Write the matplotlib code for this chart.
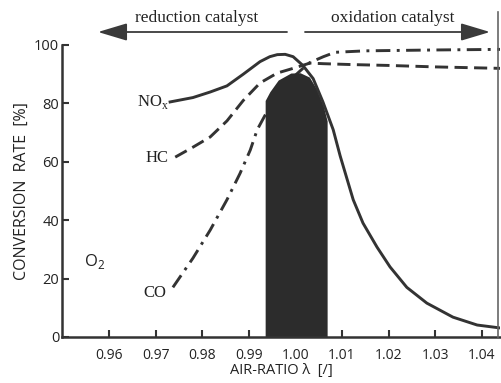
import numpy as np
import matplotlib
matplotlib.use("Agg")
import matplotlib.pyplot as plt
from matplotlib.lines import Line2D
from matplotlib.patches import FancyArrowPatch

# ---- data ----
nox_lambda = [0.9731, 0.9780, 0.9817, 0.9853, 0.9888, 0.9924, 0.9945, 0.9961, 0.9978,
              0.9995, 1.0016, 1.0038, 1.0059, 1.0081, 1.0096, 1.0124, 1.0145, 1.0175,
              1.0203, 1.0239, 1.0282, 1.0338, 1.0390, 1.0439]
nox_rate = [80.5, 82, 83.9, 86, 90, 94.3, 96, 96.7, 96.8,
            96, 93, 88.5, 80.5, 71, 62, 47, 39, 30.8,
            24, 17, 11.6, 6.8, 4.1, 3.1]

hc_lambda = [0.9742, 0.9780, 0.9817, 0.9853, 0.9888, 0.9924, 0.9961, 0.9995,
             1.0031, 1.006, 1.012, 1.020, 1.030, 1.0439]
hc_rate = [61.6, 65, 68.5, 74, 81, 87, 90.4, 92,
           93.8, 93.6, 93.3, 93, 92.5, 92]

co_lambda = [0.9737, 0.9780, 0.9817, 0.9853, 0.9881, 0.9903, 0.9918, 0.9935,
             0.9975, 1.0016, 1.0031, 1.0060, 1.0085, 1.015, 1.030, 1.0439]
co_rate = [17, 27, 36.6, 47, 56, 64, 71, 76,
           86, 92, 94, 96, 97.5, 98, 98.3, 98.5]

band_lambda = [0.9935, 0.9945, 0.9963, 0.9990, 1.0010, 1.0030, 1.0045, 1.0060, 1.0068]
band_top = [81, 84, 88, 90.4, 90.5, 89, 85, 79, 74]

xticks = [0.96, 0.97, 0.98, 0.99, 1.00, 1.01, 1.02, 1.03, 1.04]
xtick_labels = ["0.96", "0.97", "0.98", "0.99", "1.00", "1.01", "1.02", "1.03", "1.04"]
yticks = [0, 20, 40, 60, 80, 100]

# ---- figure ----
W, H = 501, 383
fig = plt.figure(figsize=(W / 100, H / 100), dpi=100)
ax = fig.add_axes([62 / W, 1 - 337 / H, (500 - 62) / W, (337 - 45) / H])

ink = "#333333"
txt = "#222222"
sans = "Open Sans"
serif = "Liberation Serif"

ax.fill_between(band_lambda, 0, band_top, color="#2c2c2c", lw=0, zorder=2)

ax.plot(co_lambda, co_rate, color=ink, lw=2.1, zorder=1,
        dashes=(5, 2.2, 1, 2.2), dash_capstyle="butt")
ax.plot(hc_lambda, hc_rate, color=ink, lw=2.1, zorder=3,
        dashes=(4.5, 2.2), dash_capstyle="butt")
ax.plot(nox_lambda, nox_rate, color=ink, lw=2.1, zorder=4)

ax.set_xlim(0.9499, 1.0439)
ax.set_ylim(0, 100)

for s in ["top", "right"]:
    ax.spines[s].set_visible(False)
for s in ["left", "bottom"]:
    ax.spines[s].set_linewidth(1.8)
    ax.spines[s].set_color(ink)

ax.set_xticks(xticks)
ax.set_xticklabels(xtick_labels, fontfamily=sans, fontsize=10)
ax.set_yticks(yticks)
ax.set_yticklabels([str(v) for v in yticks], fontfamily=sans, fontsize=10.5)
ax.tick_params(axis="both", direction="in", length=5, width=1.5, colors=ink,
               labelcolor=txt)
ax.tick_params(axis="x", pad=8)
ax.tick_params(axis="y", pad=2)

ax.set_xlabel("AIR-RATIO \u03bb  [/]", fontfamily=sans, fontsize=10.5,
              color=txt, labelpad=0)
ax.set_ylabel("CONVERSION  RATE  [%]", fontfamily=sans, fontsize=11.5,
              color=txt, labelpad=3)

# curve labels
ax.text(0.9694, 80.5, r"NO$_\mathregular{x}$", fontfamily=serif, fontsize=12,
        ha="center", va="center", color=txt)
ax.text(0.9703, 61.3, "HC", fontfamily=serif, fontsize=12,
        ha="center", va="center", color=txt)
ax.text(0.9699, 15, "CO", fontfamily=serif, fontsize=12,
        ha="center", va="center", color=txt)
ax.text(0.9570, 25.7, r"O$_\mathregular{2}$", fontfamily=sans, fontsize=12,
        ha="center", va="center", color=txt)

# top annotations
ya = 1 - 32 / H
yt = 1 - 18 / H
fig.text(197 / W, yt, "reduction catalyst", fontfamily=serif, fontsize=12.5,
         ha="center", va="center", color=txt)
fig.text(393 / W, yt, "oxidation catalyst", fontfamily=serif, fontsize=12.5,
         ha="center", va="center", color=txt)
arrow_kw = dict(arrowstyle="-|>,head_length=1.5,head_width=0.45", color="#3a3a3a",
                lw=1.3, shrinkA=0, shrinkB=0, mutation_scale=12)
fig.add_artist(FancyArrowPatch((287 / W, ya), (98 / W, ya),
                               transform=fig.transFigure, **arrow_kw))
fig.add_artist(FancyArrowPatch((305 / W, ya), (490 / W, ya),
                               transform=fig.transFigure, **arrow_kw))

# right border line
fig.add_artist(Line2D([498 / W, 498 / W], [1 - 12 / H, 1 - 337 / H],
                      transform=fig.transFigure, color="#666666", lw=1.2))

fig.savefig("out.png", dpi=100)
